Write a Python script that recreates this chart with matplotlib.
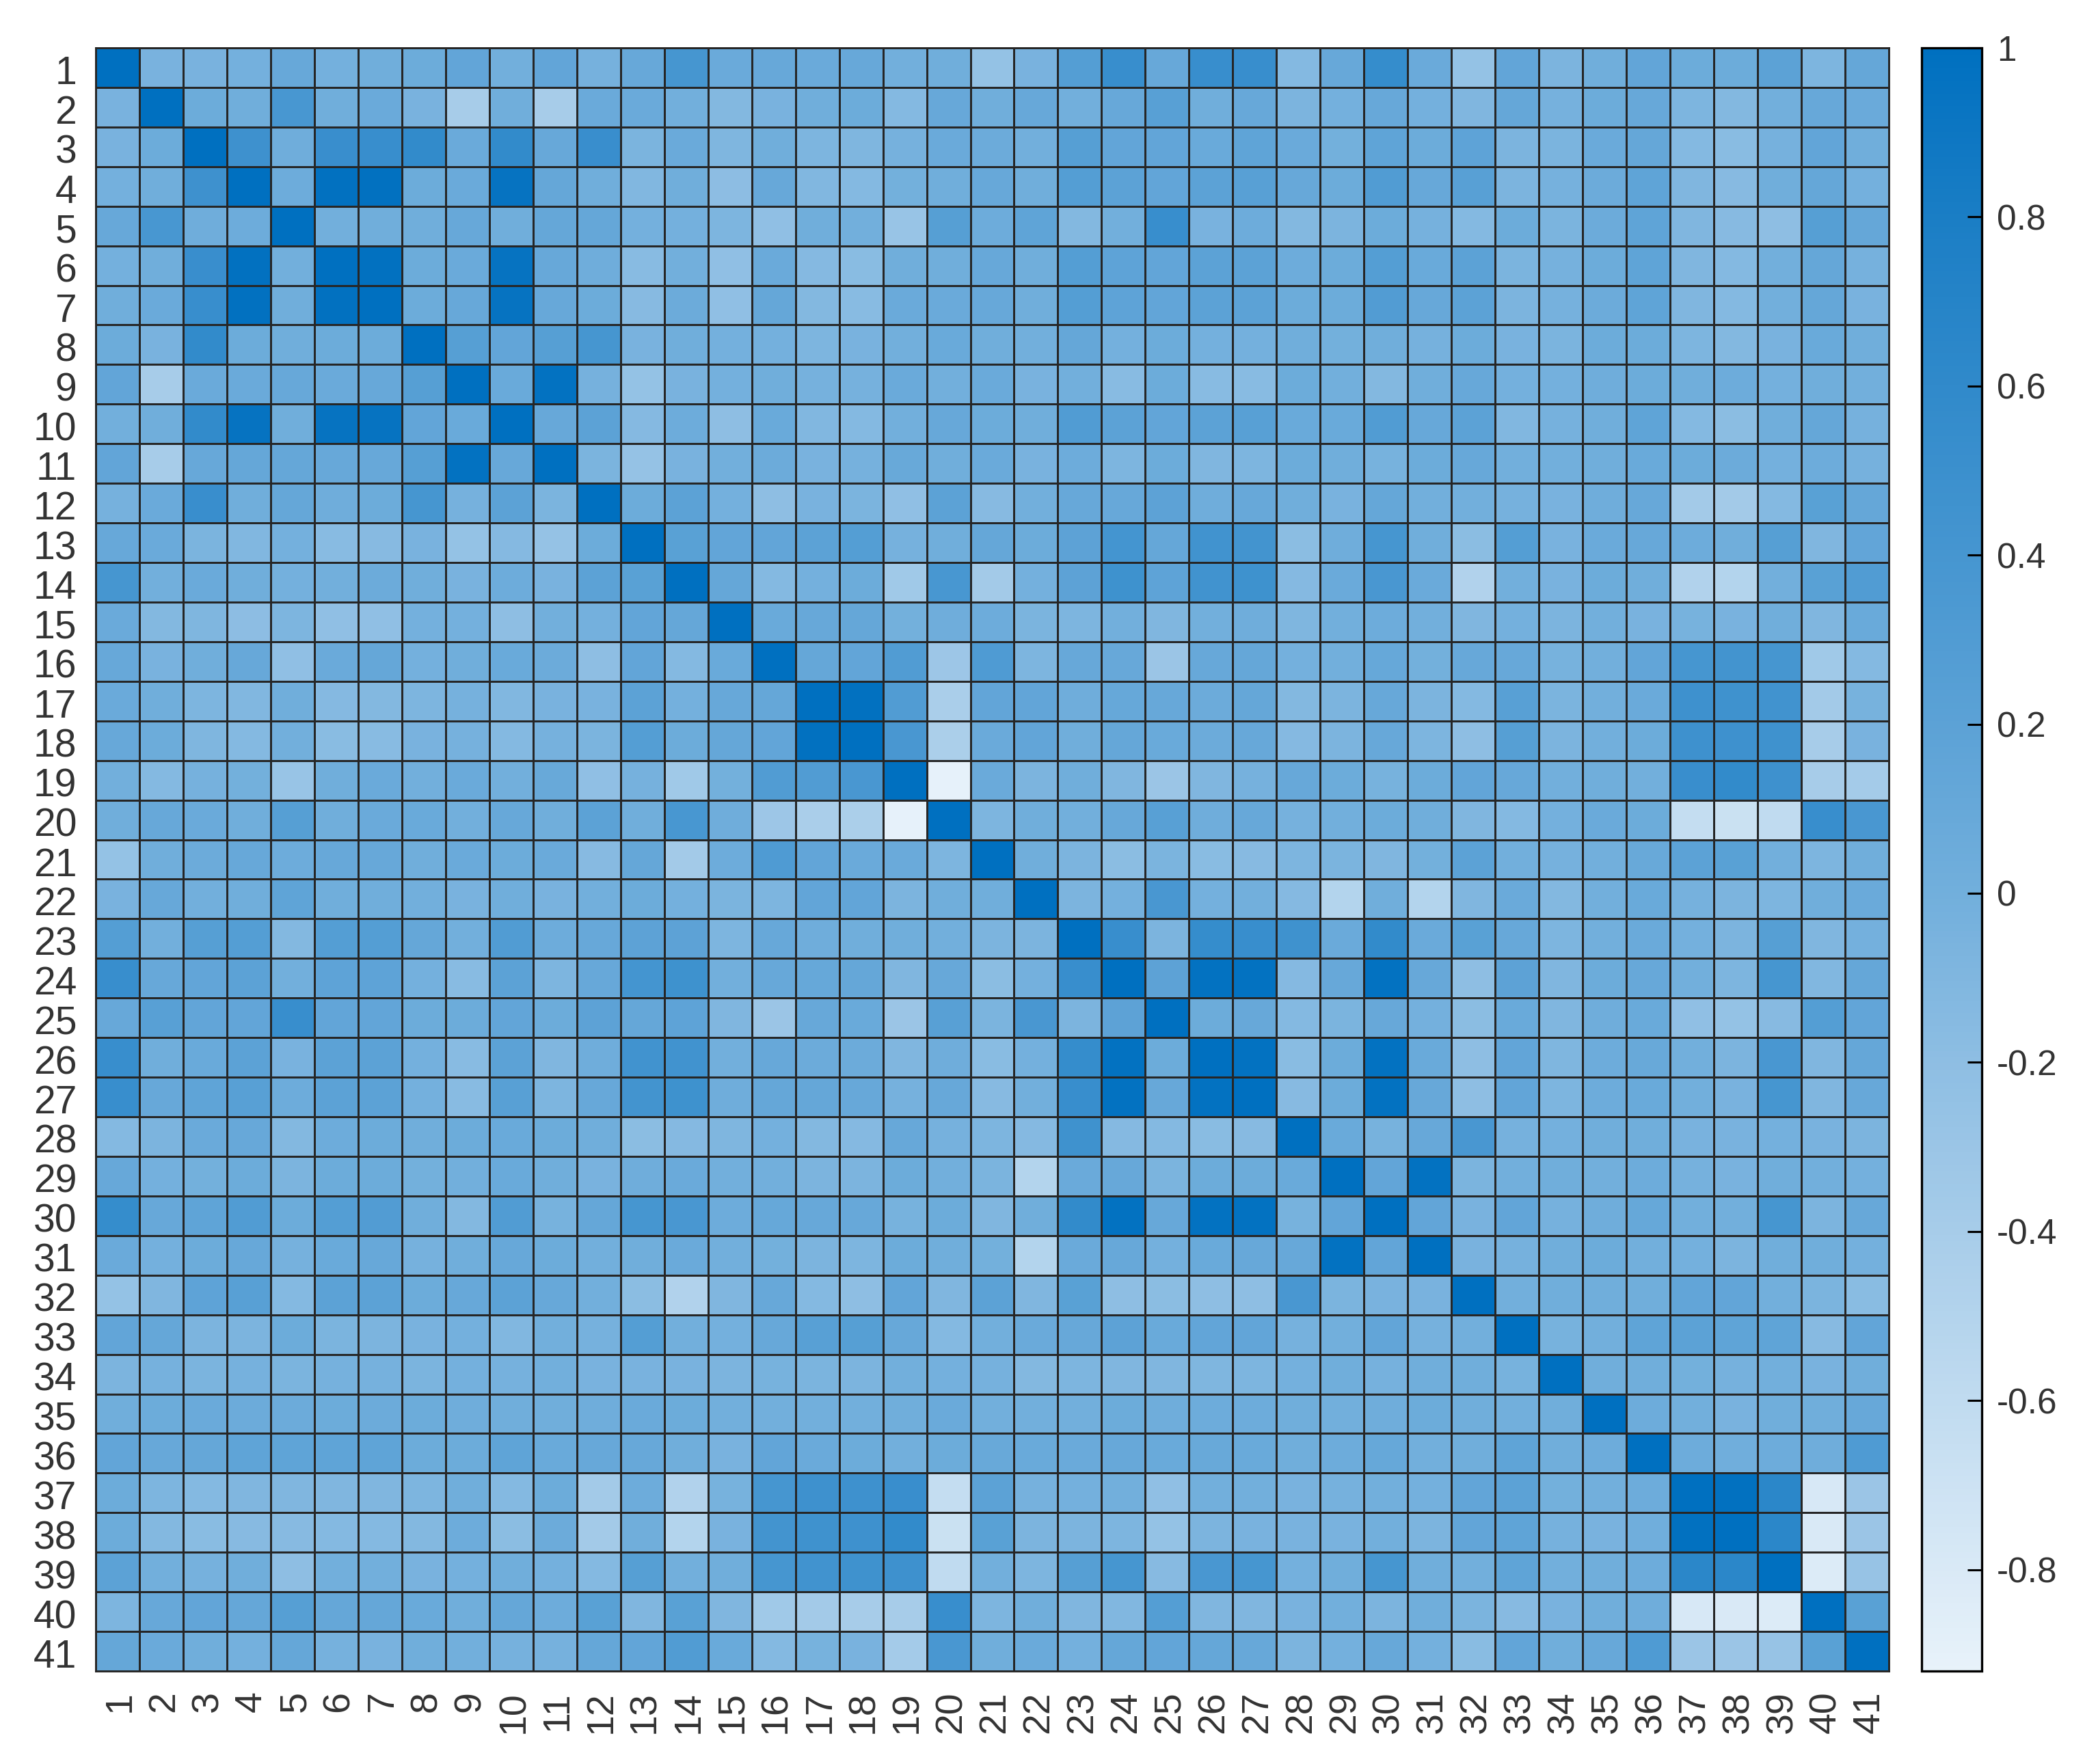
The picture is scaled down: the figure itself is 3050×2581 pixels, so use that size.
import numpy as np
import matplotlib
matplotlib.use('Agg')
import matplotlib.pyplot as plt
from matplotlib.colors import LinearSegmentedColormap
from matplotlib.transforms import ScaledTranslation

# upper triangle of the correlation matrix, r1 starts at column 1, r2 at column 2, ...
r1 = [1, -.05, -.05, -.02, .1, -.02, .02, .05, .15, 0, .15, -.03, .1, .4, .07, .1, .07, .1, 0, .02,
      -.25, -.05, .27, .53, .1, .53, .53, -.13, .1, .55, .07, -.25, .15, -.07, .02, .15, .05, .05, .2, -.08, .12]
r2 = [1, .05, .02, .38, .02, .07, -.05, -.4, .02, -.4, .07, .07, 0, -.12, -.05, .02, .05, -.13, .1,
      .02, .1, 0, .1, .24, .02, .1, -.07, -.02, .1, -.02, -.1, .12, -.03, .05, .1, -.08, -.12, 0, .1, .07]
r3 = [1, .48, .03, .52, .53, .58, .07, .58, .1, .52, -.06, .07, -.09, .02, -.08, -.09, -.03, .07,
      .06, 0, .25, .15, .15, .08, .17, .07, -.01, .17, .05, .18, -.07, -.06, .07, .12, -.13, -.17, -.03, .15, .02]
r4 = [1, .04, .98, .98, .05, .07, .95, .12, .02, -.11, .02, -.19, .1, -.11, -.13, -.01, .02,
      .1, .02, .27, .2, .15, .2, .24, .1, .05, .3, .1, .24, -.07, -.03, .06, .17, -.1, -.15, .02, .12, -.02]
r5 = [1, 0, .02, .02, .1, .02, .12, .12, -.02, -.02, -.08, -.22, .02, 0, -.28, .25,
      .04, .17, -.12, 0, .53, -.05, .04, -.12, -.07, .05, -.03, -.13, .05, -.06, .06, .17, -.1, -.15, -.2, .25, .12]
r6 = [1, .98, .05, .07, .95, .1, .03, -.16, 0, -.22, .07, -.14, -.17, .02, .02,
      .1, .02, .27, .18, .15, .2, .2, .04, .05, .27, .08, .2, -.06, -.03, .05, .17, -.1, -.13, 0, .12, -.03]
r7 = [1, .05, .1, .95, .1, .05, -.15, .06, -.22, .12, -.12, -.16, .07, .07,
      .1, .02, .27, .18, .15, .2, .2, .05, .05, .29, .1, .2, -.07, -.03, .06, .17, -.1, -.13, 0, .12, -.05]
r8 = [1, .25, .15, .25, .4, -.05, .02, -.02, -.02, -.08, -.05, 0, .08,
      .02, 0, .12, -.02, .05, -.02, -.02, .02, -.01, .02, -.03, .05, -.05, -.06, .05, .05, -.08, -.12, -.05, .08, .02]
r9 = [1, .08, .97, -.03, -.25, -.05, -.02, .02, -.03, -.03, .07, 0,
      .07, -.05, 0, -.16, .05, -.16, -.16, .05, 0, -.12, .02, .1, -.02, -.02, .03, .05, .02, .04, -.02, .02, 0]
r10 = [1, .1, .2, -.14, .04, -.2, .08, -.11, -.13, 0, .1,
       .05, .02, .3, .2, .15, .2, .24, .08, .08, .3, .1, .2, -.11, -.03, .02, .17, -.13, -.18, .02, .12, -.03]
r11 = [1, -.06, -.26, -.05, 0, .06, -.05, -.03, .09, .02,
       .07, -.05, .04, -.08, .05, -.1, -.08, .05, .02, -.04, .05, .1, 0, 0, .02, .08, .05, .06, -.02, .04, -.03]
r12 = [1, .05, .2, -.02, -.2, -.05, -.06, -.22, .2,
       -.15, 0, .1, .1, .19, .03, .1, .02, -.05, .12, 0, 0, -.03, -.05, .03, .1, -.37, -.37, -.13, .22, .12]
r13 = [1, .22, .15, .15, .2, .27, -.03, .02,
       .12, .05, .19, .42, .12, .45, .43, -.18, .03, .4, .02, -.18, .27, -.05, .07, .1, .04, .02, .25, -.1, .15]
r14 = [1, .12, -.13, -.02, .05, -.35, .38,
       -.37, -.02, .19, .47, .18, .45, .47, -.14, .07, .37, .07, -.48, 0, -.05, .05, .02, -.48, -.5, 0, .22, .3]
r15 = [1, .08, .1, .12, -.01, .03,
       .04, -.06, -.08, 0, -.1, 0, .03, -.09, 0, .04, 0, -.1, -.02, -.07, 0, -.05, -.04, -.05, .02, -.1, .08]
r16 = [1, .12, .15, .3, -.32,
       .32, -.08, .1, .1, -.3, .1, .12, -.02, 0, .11, -.01, .1, .1, -.04, 0, .15, .4, .43, .4, -.35, -.13]
r17 = [1, .98, .3, -.42,
       .15, .15, .03, .11, .1, .06, .12, -.12, -.07, .1, -.07, -.13, .24, -.06, 0, .07, .48, .46, .45, -.37, -.04]
r18 = [1, .37, -.43,
       .07, .15, .02, .12, .08, .06, .1, -.14, -.07, .1, -.08, -.2, .25, -.07, 0, .05, .48, .48, .46, -.4, -.05]
r19 = [1, -.9,
       .07, -.07, .02, -.1, -.3, -.1, -.03, .1, .05, -.04, .05, .15, .1, 0, .02, 0, .52, .58, .48, -.4, -.38]
r20 = [1, -.08, .02, 0, .1, .24, .03, .1, -.03, 0, .05, .02, -.1, -.13, -.02, .07, .05, -.63, -.68, -.6, .53, .37]
r21 = [1, .02, -.07, -.18, -.06, -.17, -.15, -.08, -.06, -.1, -.01, .2, 0, -.03, 0, .09, .2, .22, 0, -.08, .02]
r22 = [1, -.07, -.02, .37, -.02, 0, -.14, -.5, .02, -.5, -.1, .07, -.12, 0, .08, -.03, -.07, -.08, .02, .07]
r23 = [1, .53, -.07, .55, .53, .46, .07, .58, .07, .22, .1, -.08, 0, .07, -.02, -.07, .25, -.1, -.02]
r24 = [1, .19, .97, .97, -.14, .1, .97, .1, -.2, .19, -.1, .05, .1, 0, -.08, .4, -.11, .12]
r25 = [1, .05, .1, -.13, -.06, .1, -.02, -.18, .08, -.1, .03, .08, -.22, -.25, -.15, .27, .15]
r26 = [1, .97, -.17, .05, .97, .08, -.2, .15, -.09, .04, .09, 0, -.07, .37, -.1, .12]
r27 = [1, -.15, .05, .97, .1, -.2, .15, -.08, .04, .08, 0, -.05, .4, -.1, .1]
r28 = [1, .08, -.04, .1, .37, -.03, -.02, .02, .02, -.05, -.05, -.02, -.05, -.07]
r29 = [1, .15, .97, -.06, 0, .02, 0, .04, -.03, -.05, .02, 0, -.02]
r30 = [1, .15, -.05, .15, -.03, .03, .11, 0, 0, .4, -.07, .1]
r31 = [1, -.05, -.03, .02, .05, 0, -.02, -.07, .02, .02, -.02]
r32 = [1, 0, .02, .02, .02, .15, .15, 0, -.06, -.17]
r33 = [1, -.04, 0, .17, .2, .17, .17, -.15, .15]
r34 = [1, .02, .02, -.01, -.03, 0, -.05, .02]
r35 = [1, .04, 0, -.05, .02, .02, .1]
r36 = [1, .04, .01, .04, .03, .32]
r37 = [1, .98, .65, -.78, -.3]
r38 = [1, .65, -.8, -.3]
r39 = [1, -.82, -.27]
r40 = [1, .22]
r41 = [1]
rows = [r1, r2, r3, r4, r5, r6, r7, r8, r9, r10, r11, r12, r13, r14, r15, r16, r17, r18, r19, r20, r21,
        r22, r23, r24, r25, r26, r27, r28, r29, r30, r31, r32, r33, r34, r35, r36, r37, r38, r39, r40, r41]
labels = [str(i) for i in range(1, 42)]
cb_ticks = [1, .8, .6, .4, .2, 0, -.2, -.4, -.6, -.8]
cb_labels = ['1', '0.8', '0.6', '0.4', '0.2', '0', '-0.2', '-0.4', '-0.6', '-0.8']

n = len(rows)
data = np.zeros((n, n))
for i, row in enumerate(rows):
    data[i, i:] = row
    data[i:, i] = row

W, H = 3050, 2581
vmin, vmax = -.92, 1
plt.rcParams['font.family'] = ['Liberation Sans', 'DejaVu Sans']
fig = plt.figure(figsize=(W / 100, H / 100), dpi=100)
ax = fig.add_axes([140 / W, 1 - 2445 / H, (2763 - 140) / W, (2445 - 70) / H])
cax = fig.add_axes([2811 / W, 1 - 2445 / H, (2899 - 2811) / W, (2445 - 70) / H])

# colour stops
stops = [(-.92, '#E8F2FA'), (-.2, '#8EBEE3'), (0, '#72AFDC'), (.2, '#5CA2D6'), (.8, '#1B7EC5'), (1, '#0070C0')]
cmap = LinearSegmentedColormap.from_list('blues', [((v - vmin) / (vmax - vmin), c) for v, c in stops])
mesh = ax.pcolormesh(np.arange(n + 1), np.arange(n + 1), data, cmap=cmap, vmin=vmin, vmax=vmax,
                     edgecolors='#262626', linewidth=2.1)
ax.set_xlim(0, n)
ax.set_ylim(n, 0)
ax.set_xticks(np.arange(n) + .5)
ax.set_yticks(np.arange(n) + .5)
ax.set_xticklabels(labels, rotation=90, fontsize=40, color='#333333')
ax.set_yticklabels(labels, fontsize=41, color='#333333')
ax.tick_params(length=0, pad=20)
ax.tick_params(axis='x', pad=21)
# labels sit a little off the cell centres in the original
for lab in ax.get_xticklabels():
    lab.set_transform(lab.get_transform() + ScaledTranslation(.04, 0, fig.dpi_scale_trans))
for lab in ax.get_yticklabels():
    lab.set_transform(lab.get_transform() + ScaledTranslation(0, -.03, fig.dpi_scale_trans))
for s in ax.spines.values():
    s.set_linewidth(2.1)
    s.set_color('#262626')

cb = fig.colorbar(mesh, cax=cax)
cb.set_ticks(cb_ticks)
cb.set_ticklabels(cb_labels)
cb.ax.tick_params(direction='in', length=15, width=2.2, labelsize=37, labelcolor='#333333', pad=16)
cb.outline.set_linewidth(2.4)
cb.outline.set_edgecolor('black')
cb.solids.set_edgecolor('face')

fig.savefig('out.png', dpi=100)
